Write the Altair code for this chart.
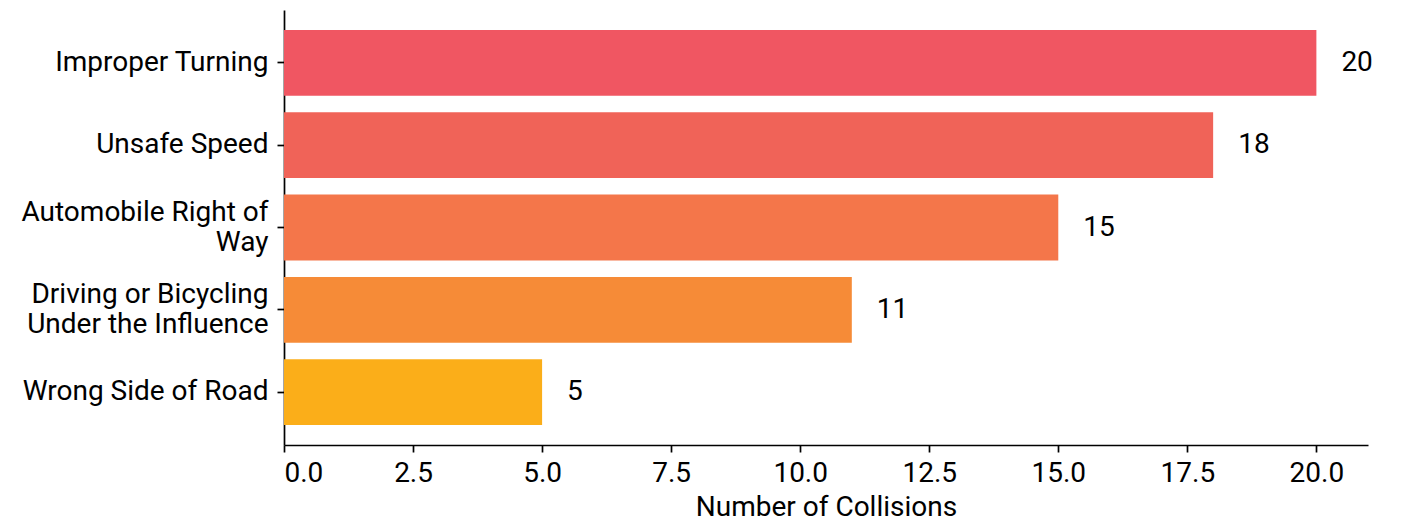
import altair as alt
import pandas as pd

categories = ["Improper Turning", "Unsafe Speed", "Automobile Right of\nWay",
              "Driving or Bicycling\nUnder the Influence", "Wrong Side of Road"]
values = [20, 18, 15, 11, 5]
colors = ["#F05662", "#F06358", "#F4764A", "#F68B37", "#FBAE19"]
x_ticks = [0, 2.5, 5, 7.5, 10, 12.5, 15, 17.5, 20]

df = pd.DataFrame({"cause": categories, "count": values, "color": colors})

FONT = "Roboto"
FS = 28

y_enc = alt.Y("cause:N", sort=categories, title=None,
              scale=alt.Scale(paddingInner=0.2, paddingOuter=0.243),
              axis=alt.Axis(labelExpr="split(datum.label, '\\n')",
                            labelFont=FONT, labelFontSize=FS, labelColor="black",
                            labelLineHeight=30, labelPadding=9, labelLimit=0,
                            labelOffset={"condition": {"test": "indexof(datum.label, '\\n') >= 0", "value": -15}, "value": 0},
                            tickSize=7, tickWidth=1.7, tickColor="black",
                            domainColor="black", domainWidth=1.7, grid=False))
x_enc = alt.X("count:Q", title="Number of Collisions",
              scale=alt.Scale(domain=[0, 21], nice=False, zero=True),
              axis=alt.Axis(values=x_ticks, format=".1f",
                            labelFont=FONT, labelFontSize=FS, labelColor="black",
                            labelPadding=7, tickSize=7, tickWidth=1.7, tickColor="black",
                            domainColor="black", domainWidth=1.7, grid=False,
                            titleFont=FONT, titleFontSize=FS, titleFontWeight="normal",
                            titleColor="black", titlePadding=6))

bars = alt.Chart(df).mark_bar().encode(
    x=x_enc, y=y_enc,
    color=alt.Color("color:N", scale=None),
)

labels = alt.Chart(df).mark_text(align="left", baseline="middle", dx=25,
                                 font=FONT, fontSize=FS, color="black").encode(
    x="count:Q", y=alt.Y("cause:N", sort=categories), text="count:Q"
)

chart = (bars + labels).properties(
    width=1084, height=435,
    background="white",
    autosize=alt.AutoSizeParams(type="none"),
    padding={"left": 276, "top": 2, "right": 30, "bottom": 78},
).configure_view(stroke=None, strokeWidth=0)

chart.save("out.html", embed_options={"renderer": "svg", "actions": False})
